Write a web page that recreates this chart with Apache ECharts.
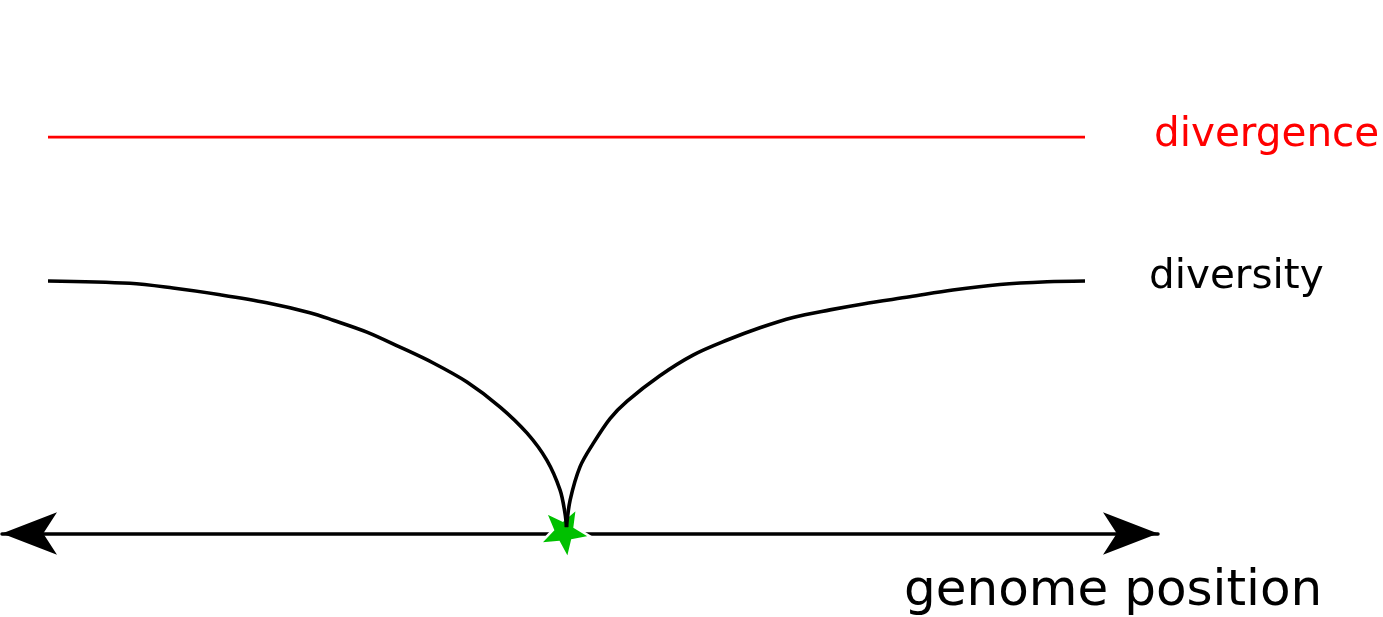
<!DOCTYPE html>
<html>
<head>
<meta charset="utf-8">
<script src="https://cdn.jsdelivr.net/npm/echarts@6/dist/echarts.min.js"></script>
<style>
html,body{margin:0;padding:0;background:#fff;}
#chart{width:1383px;height:617px;}
</style>
</head>
<body>
<div id="chart"></div>
<script>
// ---- data (genome position, arbitrary units; level relative to divergence) ----
const divergenceX = [-100, 100];
const divergenceY = [1, 1];

const diversityLeftX = [-100, -84.2, -75.9, -66.8, -57.8, -49.5, -45.0, -38.5, -32.1, -25.7, -19.2, -12.8, -7.6, -3.8, -1.25, -0.3, 0];
const diversityLeftY = [0.637, 0.631, 0.619, 0.602, 0.582, 0.557, 0.538, 0.508, 0.470, 0.430, 0.382, 0.319, 0.253, 0.185, 0.110, 0.052, 0.016];

const diversityRightX = [0, 0.7, 2.6, 5.1, 8.4, 11.7, 18.0, 24.4, 31.0, 37.3, 43.7, 50.8, 57.2, 66.2, 74.5, 83.6, 92.7, 100];
const diversityRightY = [0.016, 0.084, 0.168, 0.226, 0.290, 0.334, 0.398, 0.450, 0.488, 0.519, 0.545, 0.564, 0.579, 0.597, 0.614, 0.628, 0.635, 0.637];

const sweepX = [0];
const sweepY = [0];

const labelDivergence = 'divergence';
const labelDiversity = 'diversity';
const axisTitle = 'genome position';

// ---- build ----
function zip(xs, ys) { return xs.map((x, i) => [x, ys[i]]); }

function starPath(R, r, rotDeg) {
  const pts = [];
  for (let k = 0; k < 10; k++) {
    const rad = (k % 2 === 0) ? R : r;
    const a = (rotDeg + k * 36) * Math.PI / 180;
    pts.push([rad * Math.cos(a), rad * Math.sin(a)]);
  }
  let minX = Infinity, minY = Infinity, maxX = -Infinity, maxY = -Infinity;
  pts.forEach(p => { minX = Math.min(minX, p[0]); maxX = Math.max(maxX, p[0]); minY = Math.min(minY, p[1]); maxY = Math.max(maxY, p[1]); });
  const d = 'path://M' + pts.map(p => (p[0] - minX).toFixed(2) + ',' + (p[1] - minY).toFixed(2)).join(' L') + ' Z';
  return { d, w: maxX - minX, h: maxY - minY, cx: -minX - (maxX - minX) / 2, cy: -minY - (maxY - minY) / 2 };
}
const star = starPath(27, 11.5, -133.7);

const pxPerUnit = 5.185;
const centerPx = 566.5;
const gridLeft = 2, gridRightPx = 1158;

const chart = echarts.init(document.getElementById('chart'), null, { renderer: 'canvas' });
const font = '"DejaVu Sans", sans-serif';

chart.setOption({
  animation: false,
  backgroundColor: '#ffffff',
  title: {
    text: axisTitle,
    left: 904,
    top: 567,
    padding: 0,
    textStyle: { fontFamily: font, fontSize: 50, fontWeight: 'normal', color: '#000' }
  },
  grid: { left: gridLeft, right: 1383 - gridRightPx, top: 137, bottom: 83.5 },
  xAxis: {
    type: 'value',
    min: (gridLeft - centerPx) / pxPerUnit,
    max: (gridRightPx - centerPx) / pxPerUnit,
    axisLine: {
      show: true,
      symbol: ['arrow', 'arrow'],
      symbolSize: [32, 55],
      lineStyle: { color: '#000', width: 3.5 }
    },
    axisTick: { show: false },
    axisLabel: { show: false },
    splitLine: { show: false }
  },
  yAxis: {
    type: 'value', min: 0, max: 1, show: false,
    splitLine: { show: false }
  },
  series: [
    {
      name: labelDivergence,
      type: 'line',
      data: zip(divergenceX, divergenceY),
      showSymbol: false,
      lineStyle: { color: '#ff0000', width: 3 },
      z: 3,
      endLabel: {
        show: true,
        formatter: '{a}',
        distance: 69,
        offset: [0, -2],
        fontFamily: font,
        fontSize: 40.5,
        color: '#ff0000'
      }
    },
    {
      name: labelDiversity + '-left',
      type: 'line',
      data: zip(diversityLeftX, diversityLeftY),
      showSymbol: false,
      smooth: 0.33,
      lineStyle: { color: '#000', width: 3.6 },
      z: 3
    },
    {
      name: labelDiversity,
      type: 'line',
      data: zip(diversityRightX, diversityRightY),
      showSymbol: false,
      smooth: 0.33,
      lineStyle: { color: '#000', width: 3.6 },
      z: 3,
      endLabel: {
        show: true,
        formatter: '{a}',
        distance: 64,
        offset: [0, -3],
        fontFamily: font,
        fontSize: 40.5,
        color: '#000'
      }
    },
    {
      name: 'sweep',
      type: 'scatter',
      data: zip(sweepX, sweepY),
      symbol: star.d,
      symbolSize: [star.w, star.h],
      symbolOffset: [star.cx, star.cy + 1.5],
      itemStyle: { color: '#00c000', opacity: 1, borderColor: '#ffffff', borderWidth: 2.5 },
      z: 2,
      silent: true
    }
  ]
});
</script>
</body>
</html>
